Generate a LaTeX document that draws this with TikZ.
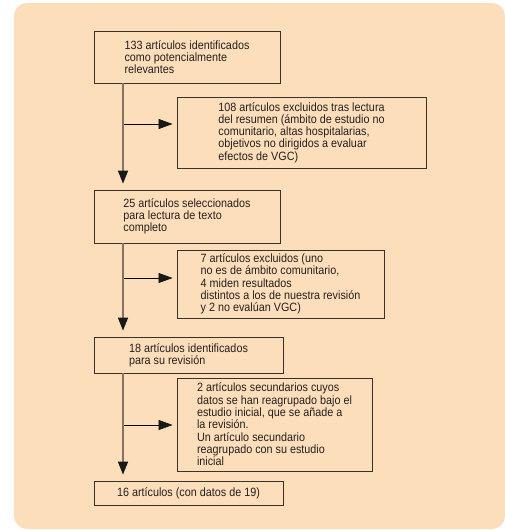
\documentclass[tikz,border=0pt]{standalone}
\usepackage{fontspec}
\setmainfont{Liberation Sans}[FakeStretch=0.9]
\usepackage{xcolor}
\usepackage{tikz}
\usetikzlibrary{arrows.meta,positioning}

\definecolor{peach}{RGB}{253,222,186}
\definecolor{boxline}{RGB}{58,48,44}
\definecolor{spinecol}{RGB}{130,115,100}
\definecolor{inktext}{RGB}{35,31,32}

\begin{document}
\begin{tikzpicture}[x=1pt, y=-1pt, font=\fontsize{12}{12.3}\selectfont,
  box/.style={draw=boxline, line width=0.8pt, align=left, inner sep=0pt, text=inktext},
  spine/.style={draw=spinecol, line width=1.6pt, shorten >=6pt,
    -{Triangle[length=13pt,width=10pt,color=black!90]}},
  branch/.style={draw=black, line width=0.7pt, shorten >=4pt,
    -{Triangle[length=14pt,width=10pt,color=black!90]}}]

  \useasboundingbox (0,0) rectangle (505,531);
  \fill[peach, rounded corners=13pt] (14,3) rectangle (505,529);

  % main column
  \node[box, minimum width=186pt, minimum height=52pt] (Ident) at (187,57)
    {133 artículos identificados\\como potencialmente\\relevantes};
  \node[box, minimum width=186pt, minimum height=53pt] (SelTxt) at (187,216.5)
    {25 artículos seleccionados\\para lectura de texto\\completo};
  \node[box, minimum width=189pt, minimum height=36pt] (IdRev) at (188.5,355)
    {18 artículos identificados\\para su revisión};
  \node[box, minimum width=189pt, minimum height=24pt] (Final) at (188.5,493)
    {16 artículos (con datos de 19)};

  % side boxes
  \node[box, minimum width=249pt, minimum height=71pt] (ExclRes) at (301.5,132.5)
    {108 artículos excluidos tras lectura\\del resumen (ámbito de estudio no\\comunitario, altas hospitalarias,\\objetivos no dirigidos a evaluar\\efectos de VGC)};
  \node[box, minimum width=207pt, minimum height=68pt] (ExclTxt) at (280.5,284)
    {7 artículos excluidos (uno\\no es de ámbito comunitario,\\4 miden resultados\\distintos a los de nuestra revisión\\y 2 no evalúan VGC)};
  \node[box, minimum width=195pt, minimum height=93pt] (Secund) at (274.5,424.5)
    {2 artículos secundarios cuyos\\datos se han reagrupado bajo el\\estudio inicial, que se añade a\\la revisión.\\Un artículo secundario\\reagrupado con su estudio\\inicial};

  \coordinate (sp) at (123,0);
  \coordinate (j1) at (123,124);
  \coordinate (j2) at (123,278);
  \coordinate (j3) at (123,425);

  \path[branch] (j1) -- (j1 -| ExclRes.west);
  \path[branch] (j2) -- (j2 -| ExclTxt.west);
  \path[branch] (j3) -- (j3 -| Secund.west);

  \path[spine] (Ident.south -| sp) -- (SelTxt.north -| sp);
  \path[spine] (SelTxt.south -| sp) -- (IdRev.north -| sp);
  \path[spine] (IdRev.south -| sp) -- (Final.north -| sp);

\end{tikzpicture}
\end{document}
